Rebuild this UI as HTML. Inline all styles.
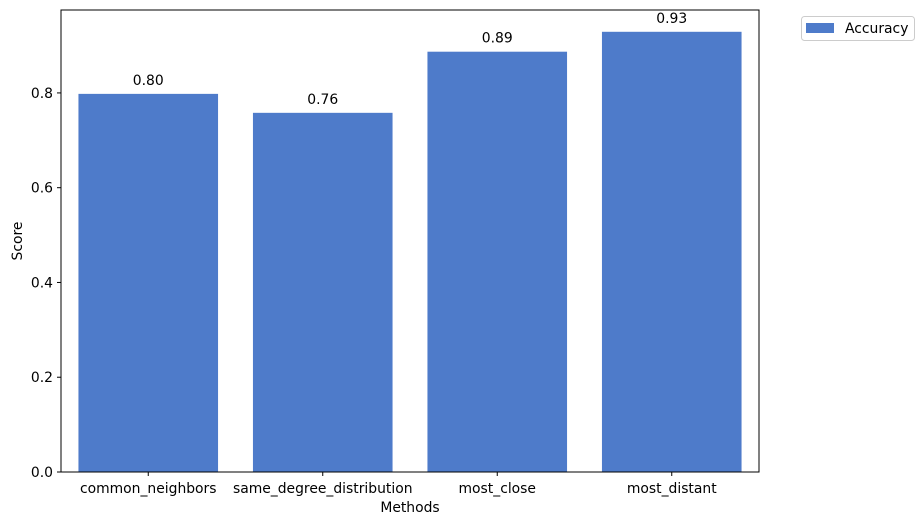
<!DOCTYPE html>
<html><head><meta charset="utf-8"><style>
body{margin:0;background:#fff;font-family:"Liberation Sans","DejaVu Sans",sans-serif;}
svg text{font-family:"DejaVu Sans","Liberation Sans",sans-serif;}
</style></head><body>
<svg id="chart" width="924" height="525" xmlns="http://www.w3.org/2000/svg">
<g id="plot"></g>
</svg>
<script>
const categories=["common_neighbors","same_degree_distribution","most_close","most_distant"];
const values=[0.798,0.758,0.887,0.929];
const yTicks=[0,0.2,0.4,0.6,0.8];
const yTickLabels=["0.0","0.2","0.4","0.6","0.8"];
const L=61,R=759,T=10,B=472,yMax=0.975;
const FS=13.9;
const x=i=>L+(i+0.5)*(R-L)/categories.length;
const y=v=>B-v/yMax*(B-T);
const ns="http://www.w3.org/2000/svg";
const g=document.getElementById('plot');
function mk(t,a,txt){const e=document.createElementNS(ns,t);for(const k in a)e.setAttribute(k,a[k]);if(txt!==undefined)e.textContent=txt;g.appendChild(e);return e;}
const bw=(R-L)/categories.length*0.8;
values.forEach((v,i)=>{
 const r=mk('rect',{x:x(i)-bw/2,y:y(v),width:bw,height:B-y(v),fill:'#4e7bca'});
 
 
 const t=mk('text',{x:x(i),y:y(v)-9,'font-size':FS,'text-anchor':'middle',fill:'#000'},v.toFixed(2));
 
 
 mk('line',{x1:x(i),x2:x(i),y1:B,y2:B+4,stroke:'#000'});
 const xl=mk('text',{x:x(i),y:B+21,'font-size':FS,'text-anchor':'middle'},categories[i]);
 
 
});
yTicks.forEach((v,i)=>{
 mk('line',{x1:L-4,x2:L,y1:y(v),y2:y(v),stroke:'#000'});
 const t=mk('text',{x:L-8,y:y(v)+5,'font-size':FS,'text-anchor':'end'},yTickLabels[i]);
 
 
});
const fr=mk('rect',{x:L,y:T,width:R-L,height:B-T,fill:'none',stroke:'#000','stroke-width':1});


const xt=mk('text',{x:(L+R)/2,y:512,'font-size':FS,'text-anchor':'middle'},'Methods');


const yt=mk('text',{x:0,y:0,'font-size':FS,'text-anchor':'middle',transform:'translate(22,241) rotate(-90)'},'Score');


const lg=mk('rect',{x:801.5,y:16.5,width:113,height:24,rx:3,fill:'#fff',stroke:'#ccc'});


mk('rect',{x:806,y:23,width:28,height:10,fill:'#4e7bca'});
const lt=mk('text',{x:845,y:33,'font-size':FS},'Accuracy');


</script>
</body></html>
